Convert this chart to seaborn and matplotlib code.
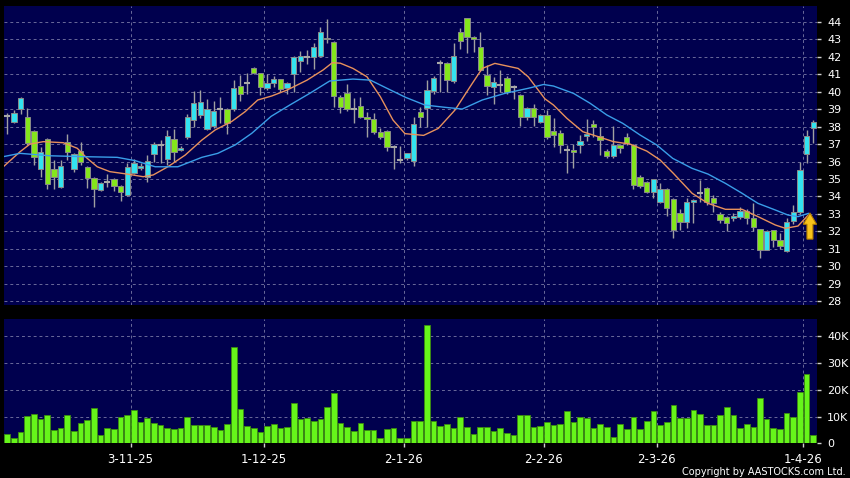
import matplotlib
matplotlib.use("Agg")
import matplotlib.pyplot as plt
from matplotlib.patches import FancyArrow
import numpy as np
import seaborn as sns

# daily candles (HKD)
opens = [38.6, 38.25, 39.0, 38.53, 37.77, 35.55, 37.3, 35.55, 34.52, 37.14,
         35.55, 36.6, 35.7, 35.07, 34.37, 34.8, 35.0, 34.6, 34.08, 35.36,
         35.65, 35.13, 36.43, 36.93, 36.14, 37.27, 36.66, 37.42, 38.38, 38.67,
         37.85, 38.05, 39.03, 39.0, 39.0, 40.33, 40.48, 41.34, 41.06, 40.2,
         40.48, 40.71, 40.2, 41.0, 41.78, 42.0, 42.0, 42.05, 43.1, 42.84,
         39.72, 39.91, 39.0, 39.2, 38.57, 38.44, 37.71, 37.75, 36.82, 36.09,
         36.22, 36.03, 38.86, 39.05, 40.04, 41.63, 41.63, 40.62, 43.44, 44.21,
         43.12, 42.55, 40.96, 40.29, 40.4, 40.77, 40.29, 39.81, 38.57, 39.09,
         38.28, 38.67, 37.77, 37.65, 36.66, 36.66, 36.93, 37.46, 38.13, 37.48,
         36.6, 36.33, 36.93, 37.39, 36.95, 35.13, 34.81, 34.23, 33.7, 34.42,
         33.83, 33.03, 32.52, 33.7, 34.21, 34.46, 33.89, 32.99, 32.8, 32.78,
         32.8, 33.16, 32.74, 32.11, 30.93, 32.07, 31.5, 30.87, 32.59, 33.09,
         36.43, 37.9]
highs = [38.8, 38.95, 39.72, 39.05, 37.8, 36.85, 37.35, 36.1, 36.1, 37.6,
         36.5, 37.14, 35.75, 35.1, 34.8, 35.27, 35.05, 34.65, 35.9, 36.13,
         35.9, 36.37, 37.1, 37.23, 37.8, 37.85, 36.9, 38.7, 40.06, 40.1,
         39.6, 39.5, 39.72, 39.05, 40.7, 40.96, 41.1, 41.4, 41.1, 41.0,
         40.9, 40.75, 40.55, 42.05, 42.35, 42.4, 42.78, 43.73, 44.2, 42.9,
         39.8, 40.44, 39.62, 39.7, 38.86, 38.8, 37.9, 37.8, 36.95, 36.89,
         36.5, 38.57, 39.1, 40.67, 40.9, 41.82, 41.7, 42.78, 43.67, 44.25,
         43.2, 43.44, 41.53, 40.86, 41.25, 40.9, 40.39, 39.85, 39.15, 39.3,
         38.7, 38.95, 38.48, 37.8, 36.95, 36.99, 37.5, 38.42, 38.4, 38.0,
         36.7, 38.04, 37.0, 37.65, 37.0, 35.2, 34.9, 35.0, 34.75, 34.5,
         33.9, 33.3, 33.9, 33.85, 34.93, 34.55, 34.1, 33.1, 32.9, 33.05,
         33.4, 33.3, 33.6, 32.15, 32.05, 32.1, 31.9, 32.75, 33.5, 35.99,
         37.81, 38.38]
lows = [37.6, 38.2, 38.7, 36.95, 35.8, 35.13, 34.4, 34.4, 34.5, 36.1,
        35.4, 35.8, 34.5, 33.4, 34.3, 34.56, 34.3, 33.73, 34.0, 35.3,
        35.5, 34.84, 36.0, 35.9, 35.8, 36.0, 36.6, 37.3, 37.96, 38.5,
        37.8, 37.9, 38.19, 37.58, 38.9, 39.5, 39.9, 41.0, 39.8, 40.1,
        40.3, 40.0, 39.9, 40.0, 41.15, 41.6, 41.29, 42.0, 42.78, 39.14,
        38.76, 38.9, 38.19, 38.5, 37.42, 37.6, 37.3, 36.6, 35.55, 35.9,
        36.1, 35.74, 38.0, 38.0, 39.9, 40.0, 40.0, 40.5, 42.43, 42.24,
        42.3, 41.2, 39.81, 39.28, 40.0, 39.9, 39.57, 38.04, 38.4, 38.04,
        38.2, 37.3, 36.86, 36.5, 35.32, 35.61, 36.5, 37.2, 37.4, 36.37,
        36.2, 36.2, 36.5, 36.95, 34.41, 34.5, 34.2, 33.9, 33.6, 32.88,
        31.6, 32.1, 32.2, 32.5, 33.7, 33.5, 33.1, 32.5, 32.03, 32.6,
        32.7, 32.4, 32.0, 30.45, 30.9, 31.1, 31.0, 30.8, 32.4, 33.0,
        35.93, 37.04]
closes = [38.6, 38.76, 39.62, 37.05, 36.28, 36.56, 34.7, 35.13, 35.76, 36.56,
          36.43, 36.0, 35.04, 34.41, 34.79, 34.8, 34.6, 34.23, 35.67, 35.9,
          35.75, 36.05, 36.99, 36.93, 37.48, 36.56, 36.78, 38.53, 39.37, 39.4,
          39.03, 38.88, 39.03, 38.23, 40.2, 39.85, 40.48, 41.06, 40.26, 40.48,
          40.71, 40.16, 40.48, 41.98, 42.07, 42.0, 42.55, 43.41, 43.0, 39.76,
          39.14, 38.99, 39.0, 38.53, 38.42, 37.71, 37.42, 36.82, 36.82, 36.09,
          36.47, 38.13, 38.57, 40.1, 40.77, 41.63, 40.67, 42.07, 42.93, 43.12,
          43.0, 41.25, 40.33, 40.54, 40.4, 40.0, 40.29, 38.53, 39.09, 38.53,
          38.67, 37.39, 37.52, 36.95, 36.66, 36.53, 37.18, 37.58, 37.96, 37.23,
          36.33, 36.93, 36.76, 37.04, 34.66, 34.6, 34.23, 34.98, 34.41, 33.32,
          32.07, 32.52, 33.66, 33.8, 34.21, 33.7, 33.6, 32.65, 32.46, 32.88,
          33.18, 32.74, 32.26, 30.93, 32.02, 31.5, 31.17, 32.55, 33.08, 35.51,
          37.46, 38.25]

# volume in thousands of shares
volume_k = [3.5, 2.2, 4.4, 10.1, 11.1, 9.0, 10.4, 5.1, 5.8, 10.5,
            4.8, 7.5, 8.8, 13.3, 3.0, 5.9, 5.4, 9.9, 10.7, 12.3,
            8.0, 9.3, 7.5, 6.8, 5.7, 5.2, 5.6, 10.0, 7.0, 7.0,
            6.8, 6.0, 4.9, 7.2, 35.7, 12.7, 6.5, 5.6, 4.2, 6.4,
            7.2, 5.7, 6.0, 15.2, 9.0, 9.5, 8.3, 9.0, 13.5, 18.6,
            7.7, 6.2, 4.7, 7.5, 4.9, 4.9, 2.0, 5.3, 5.9, 1.9,
            1.9, 8.5, 8.5, 43.8, 8.4, 6.4, 7.2, 5.9, 10.0, 6.3,
            3.6, 6.0, 6.0, 4.8, 5.7, 4.0, 3.3, 10.7, 10.4, 6.2,
            6.4, 8.0, 7.0, 7.4, 12.0, 7.8, 10.0, 9.6, 5.6, 7.3,
            6.3, 2.3, 7.3, 5.3, 9.9, 5.3, 8.3, 11.9, 7.0, 7.9,
            14.2, 9.4, 9.3, 12.3, 11.0, 6.7, 6.9, 10.6, 13.6, 10.7,
            5.7, 7.3, 6.0, 16.7, 9.1, 5.9, 5.3, 11.4, 9.9, 19.0,
            25.9, 3.3]

# moving averages as drawn (they start before the first visible candle)
ma_fast_x = [-0.6, 1.9, 3.4, 5.4, 8.4, 10.5, 12.0, 13.5, 15.4, 18.0,
             20.4, 21.9, 24.1, 26.7, 29.2, 31.2, 33.7, 35.7, 37.6, 39.7,
             42.0, 45.0, 47.4, 48.8, 50.0, 51.9, 54.0, 56.0, 57.9, 59.7,
             62.5, 64.7, 67.2, 69.8, 71.3, 73.2, 76.7, 78.2, 80.7, 82.0,
             84.0, 86.4, 89.0, 91.0, 93.5, 96.0, 98.0, 100.0, 102.8, 105.2,
             107.8, 110.3, 112.7, 115.3, 116.8, 118.7, 120.3]
ma_fast = [35.7, 36.56, 37.0, 37.14, 37.08, 36.76, 36.18, 35.7, 35.42, 35.28,
           35.13, 35.23, 35.7, 36.37, 37.23, 37.81, 38.3, 38.86, 39.53, 39.76,
           40.1, 40.67, 41.25, 41.67, 41.64, 41.34, 40.86, 39.72, 38.38, 37.6,
           37.5, 37.9, 38.95, 40.48, 41.34, 41.63, 41.34, 40.86, 39.6, 39.24,
           38.48, 37.71, 37.39, 37.14, 37.0, 36.6, 36.09, 35.32, 34.18, 33.6,
           33.26, 33.26, 32.84, 32.36, 32.17, 32.3, 32.95]
ma_slow_x = [-0.6, 1.9, 6.4, 11.4, 16.5, 19.2, 22.2, 25.6, 29.2, 31.6,
             34.2, 36.7, 39.6, 42.4, 45.4, 48.4, 51.9, 54.5, 57.0, 59.8,
             62.7, 65.7, 68.3, 71.3, 74.7, 78.2, 80.5, 82.0, 85.0, 87.5,
             90.0, 92.4, 95.0, 97.5, 99.9, 102.8, 105.2, 107.8, 110.3, 112.7,
             115.3, 117.2, 118.7, 120.3]
ma_slow = [36.28, 36.47, 36.33, 36.28, 36.24, 36.05, 35.7, 35.7, 36.24, 36.47,
           36.95, 37.62, 38.59, 39.24, 39.91, 40.62, 40.73, 40.67, 40.2, 39.68,
           39.24, 39.11, 39.01, 39.53, 39.91, 40.2, 40.42, 40.33, 39.91, 39.34,
           38.67, 38.19, 37.52, 36.95, 36.18, 35.61, 35.28, 34.75, 34.18, 33.6,
           33.22, 32.93, 32.84, 33.03]

# first trading day of each month shown on the axis
month_day_idx = [19, 39, 60, 81, 98, 120]
month_labels = ["3-11-25", "1-12-25", "2-1-26", "2-2-26", "2-3-26", "1-4-26"]

price_ticks = list(range(28, 45))
vol_ticks = [0, 10, 20, 30, 40]

NAVY = "#00004e"
GRID = "#6a6a9a"
UP = "#33e3f0"
DOWN = "#84e61c"
FLAT = "#a8a8a8"
WICK = "#a0a0a0"
VOL = "#66f51a"

sns.set_style("dark", {"axes.facecolor": NAVY, "figure.facecolor": "black",
                       "axes.edgecolor": NAVY, "grid.color": GRID})
plt.rcParams["font.family"] = ["DejaVu Sans"]

fig = plt.figure(figsize=(8.5, 4.78), dpi=100)
ax_p = fig.add_axes([0.0047, 0.3619, 0.9568, 0.6255])
ax_v = fig.add_axes([0.0047, 0.0722, 0.9568, 0.2604])

days = np.arange(len(opens))
o = np.array(opens)
c = np.array(closes)

# candles
ax_p.vlines(days, lows, highs, color=WICK, lw=1, zorder=2)
flat = np.isclose(o, c)
body_col = np.where(c > o, UP, DOWN)
bottom = np.minimum(o, c)
height = np.maximum(np.abs(c - o), 0.08)
ax_p.bar(days[~flat], height[~flat], bottom=bottom[~flat], width=0.8,
         color=body_col[~flat], edgecolor="#8a8a8a", linewidth=0.7, zorder=3)
ax_p.hlines(c[flat], days[flat] - 0.45, days[flat] + 0.45, color=FLAT, lw=1.5, zorder=3)

sns.lineplot(x=ma_fast_x, y=ma_fast, ax=ax_p, color="#e8915c", lw=1, zorder=4)
sns.lineplot(x=ma_slow_x, y=ma_slow, ax=ax_p, color="#3a9ee8", lw=1, zorder=4)

ax_p.add_patch(FancyArrow(120.5, 31.55, 0, 1.5, width=0.9, head_width=2.0,
                          head_length=0.65, length_includes_head=True,
                          facecolor="#f7c21a", edgecolor="#b07a00", lw=0.8, zorder=5))

# volume
sns.barplot(x=days, y=volume_k, ax=ax_v, native_scale=True, color=VOL,
            saturation=1, edgecolor="#3c8c10", linewidth=0.6, width=0.85,
            errorbar=None, zorder=3)

grid_x = [d - 0.5 for d in month_day_idx]
for ax in (ax_p, ax_v):
    ax.set_xlim(-0.5, 121.6)
    ax.set_xlabel("")
    ax.set_ylabel("")
    ax.grid(False)
    for gx in grid_x:
        ax.axvline(gx, color=GRID, lw=0.7, ls=(0, (3, 3)), zorder=1)
    ax.yaxis.tick_right()
    ax.tick_params(axis="y", which="both", direction="out", length=3, width=1,
                   color="#d0d0d0", labelcolor="white", labelsize=8, pad=4,
                   left=False, right=True)
    for s in ax.spines.values():
        s.set_visible(False)

ax_p.set_ylim(27.77, 44.92)
ax_p.set_yticks(price_ticks)
ax_p.set_yticklabels([str(t) for t in price_ticks])
for t in price_ticks:
    ax_p.axhline(t, color=GRID, lw=0.7, ls=(0, (3, 3)), zorder=1)
ax_p.set_xticks([])

ax_v.set_ylim(0, 46.2)
ax_v.set_yticks(vol_ticks)
ax_v.set_yticklabels(["0"] + [f"{t}K" for t in vol_ticks[1:]])
for t in vol_ticks[1:]:
    ax_v.axhline(t, color=GRID, lw=0.7, ls=(0, (3, 3)), zorder=1)
ax_v.set_xticks(grid_x)
ax_v.set_xticklabels(month_labels)
ax_v.tick_params(axis="x", direction="out", length=3, width=1, color="#d0d0d0",
                 labelcolor="white", labelsize=8.5, pad=4, bottom=True)

fig.text(0.995, 0.0135, "Copyright by AASTOCKS.com Ltd.", color="white",
         fontsize=7, ha="right", va="center")

fig.savefig("out.png", dpi=100, facecolor="black")
